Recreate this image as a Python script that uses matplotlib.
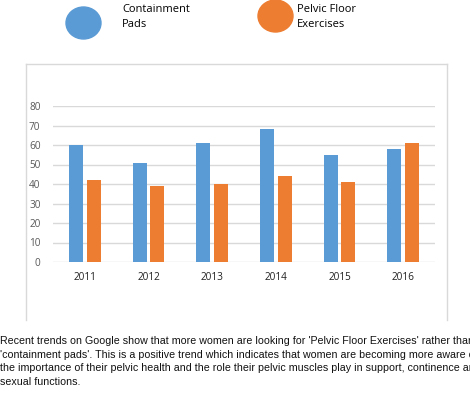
import numpy as np
import matplotlib
matplotlib.use('Agg')
import matplotlib.pyplot as plt
from matplotlib.patches import Ellipse
from matplotlib.lines import Line2D

# 数据
years = ['2011', '2012', '2013', '2014', '2015', '2016']
containment_pads = [60, 51, 61, 68, 55, 58]
pelvic_floor = [42, 39, 40, 44, 41, 61]
yticks = [0, 10, 20, 30, 40, 50, 60, 70, 80]
series_names = ['Containment\nPads', 'Pelvic Floor\nExercises']
caption = ("Recent trends on Google show that more women are looking for 'Pelvic Floor Exercises' rather than\n"
           "'containment pads'. This is a positive trend which indicates that women are becoming more aware of\n"
           "the importance of their pelvic health and the role their pelvic muscles play in support, continence and\n"
           "sexual functions.")

blue = '#5B9BD5'
orange = '#ED7D31'
grid_c = '#D9D9D9'
W, H = 470, 394

fig = plt.figure(figsize=(W / 100, H / 100), dpi=100)

# 背景层（像素坐标）：图例圆点和外框
bg = fig.add_axes([0, 0, 1, 1])
bg.set_xlim(0, W)
bg.set_ylim(H, 0)
bg.axis('off')
bg.add_patch(Ellipse((83.5, 23), 35, 32, color=blue))
bg.add_patch(Ellipse((275.5, 16), 35, 32, color=orange))
bg.text(122, 17, series_names[0], fontsize=8, family='Open Sans', va='center', linespacing=1.45)
bg.text(297, 17, series_names[1], fontsize=8, family='Open Sans', va='center', linespacing=1.45)
for xs, ys in [([25.5, 25.5], [320, 63.5]), ([25.5, 447], [63.5, 63.5]), ([447, 447], [63.5, 320])]:
    bg.add_line(Line2D(xs, ys, color=grid_c, lw=1))

# 柱状图
ax = fig.add_axes([53 / W, 1 - 262 / H, 382 / W, 156 / H])
x = np.arange(len(years))
w = 0.22
ax.bar(x - 0.14, containment_pads, w, color=blue, zorder=3)
ax.bar(x + 0.14, pelvic_floor, w, color=orange, zorder=3)
ax.set_xlim(-0.5, len(years) - 0.5)
ax.set_ylim(0, 80)
ax.set_yticks(yticks)
ax.set_xticks(x)
ax.set_xticklabels(years, fontsize=7.2, family='Open Sans', color='#222222')
ax.tick_params(axis='y', labelsize=7.2, labelcolor='#595959', length=0, pad=9)
ax.tick_params(axis='x', length=0, pad=7)
for lbl in ax.get_yticklabels():
    lbl.set_family('Open Sans')
ax.grid(axis='y', color=grid_c, lw=1)
ax.set_axisbelow(True)
for s in ax.spines.values():
    s.set_visible(False)

# 说明文字
fig.text(0.0, 1 - 336 / H, caption, fontsize=7.65, family='Liberation Sans', va='top',
         ha='left', linespacing=1.45, color='#111111')

fig.savefig('out.png', dpi=100)
